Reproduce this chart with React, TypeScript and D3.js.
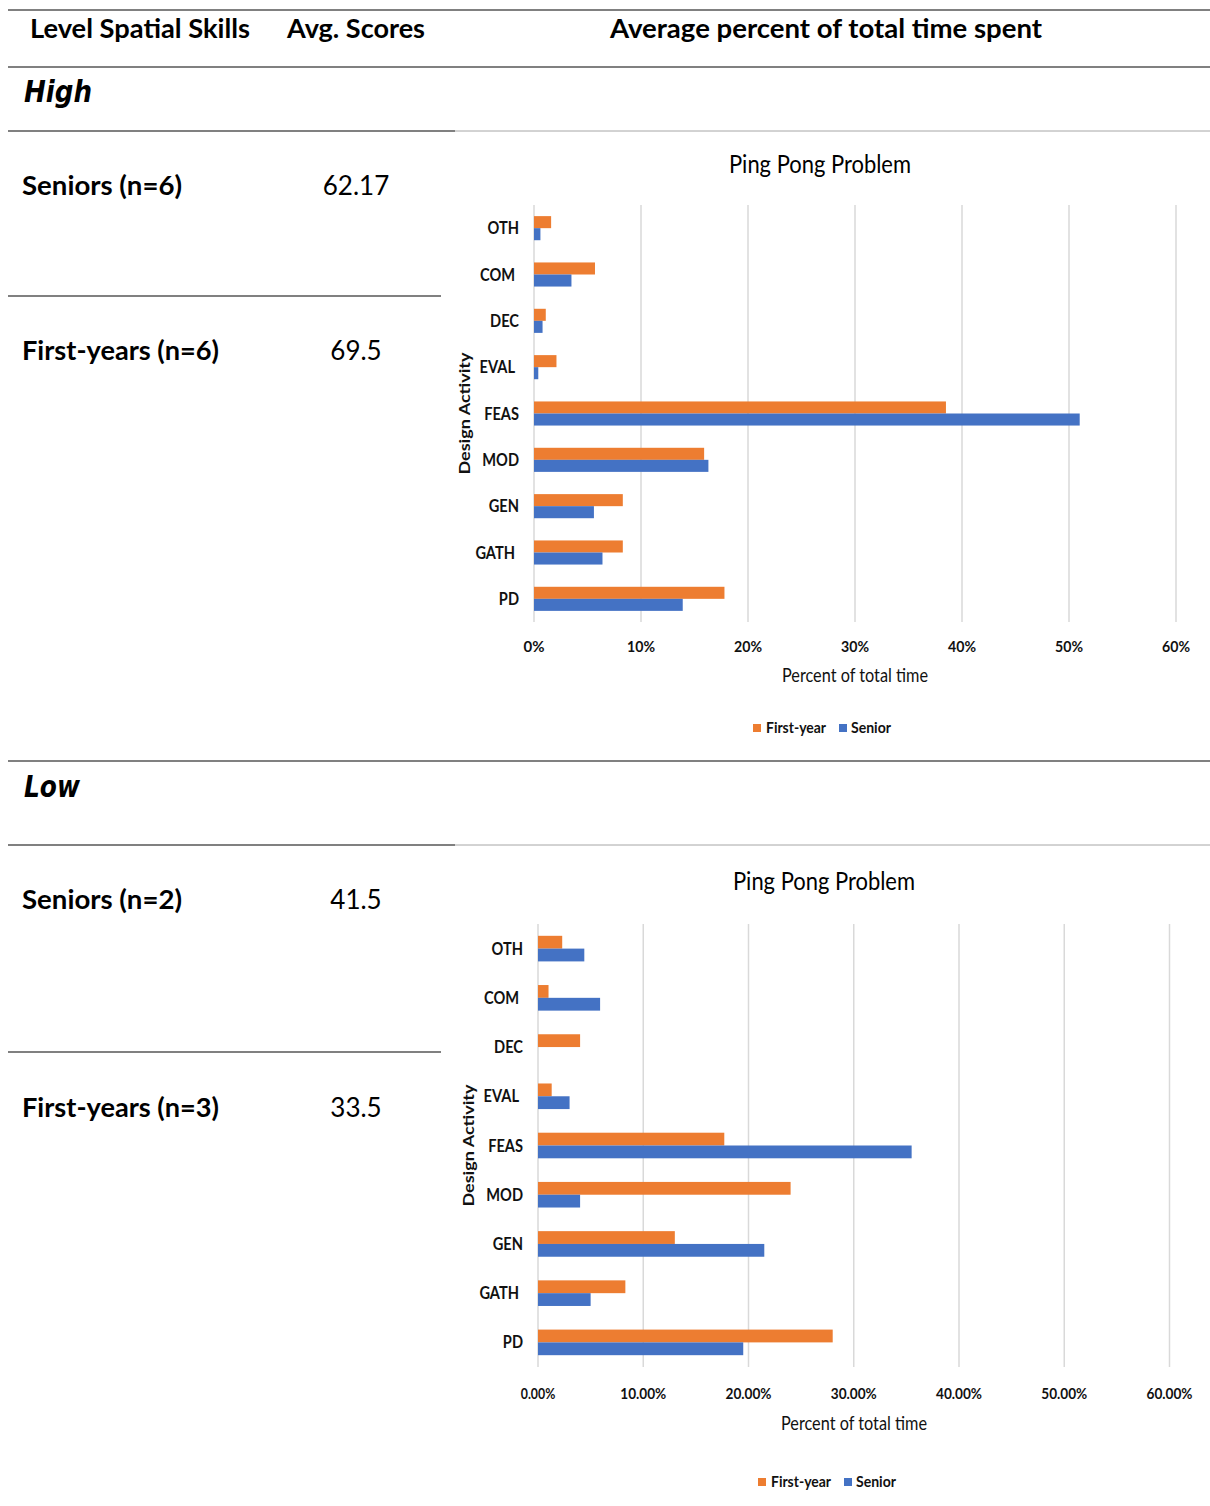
import React from "react";
import * as d3 from "d3";

const categories = ["OTH", "COM", "DEC", "EVAL", "FEAS", "MOD", "GEN", "GATH", "PD"];
const highFirstYear = [1.6, 5.7, 1.1, 2.1, 38.5, 15.9, 8.3, 8.3, 17.8];
const highSenior = [0.6, 3.5, 0.8, 0.4, 51.0, 16.3, 5.6, 6.4, 13.9];
const lowFirstYear = [2.3, 1.0, 4.0, 1.3, 17.7, 24.0, 13.0, 8.3, 28.0];
const lowSenior = [4.4, 5.9, 0, 3.0, 35.5, 4.0, 21.5, 5.0, 19.5];
const xTicks = [0, 10, 20, 30, 40, 50, 60];
const seriesNames = ["First-year", "Senior"];
const headers = ["Level Spatial Skills", "Avg. Scores", "Average percent of total time spent"];
const levels = ["High", "Low"];
const groupLabels = ["Seniors (n=6)", "First-years (n=6)", "Seniors (n=2)", "First-years (n=3)"];
const groupScores = ["62.17", "69.5", "41.5", "33.5"];

const ORANGE = "#ED7D31";
const BLUE = "#4472C4";
const FONT = "Lato, 'Open Sans', sans-serif";

type ChartProps = {
  first: number[];
  senior: number[];
  x0: number;
  x1: number;
  yTop: number;
  yBot: number;
  titleX: number;
  titleY: number;
  tickY: number;
  tickFmt: (v: number) => string;
  tickW: number;
  axisTitleX: number;
  axisTitleY: number;
  yTitleX: number;
  labelRight: number;
  legendX: number;
  legendY: number;
};

function Chart(p: ChartProps) {
  const x = d3.scaleLinear().domain([0, 60]).range([p.x0, p.x1]);
  const y = d3.scaleBand<string>().domain(categories).range([p.yTop, p.yBot]).paddingInner(0.48).paddingOuter(0.24);
  const sub = d3.scaleBand<string>().domain(seriesNames).range([0, y.bandwidth()]);
  const yMid = (p.yTop + p.yBot) / 2;
  return (
    <g>
      <text x={p.titleX} y={p.titleY} textAnchor="middle" fontSize={25} fontFamily={FONT} fill="#000" textLength={182} lengthAdjust="spacingAndGlyphs">Ping Pong Problem</text>
      {xTicks.map((t) => (
        <line key={"g" + t} x1={x(t)} x2={x(t)} y1={p.yTop} y2={p.yBot} stroke="#d9d9d9" strokeWidth={1.5} />
      ))}
      {categories.map((c, i) => (
        <g key={c}>
          <rect x={x(0)} y={(y(c) as number) + (sub("First-year") as number)} width={x(p.first[i]) - x(0)} height={sub.bandwidth()} fill={ORANGE} />
          <rect x={x(0)} y={(y(c) as number) + (sub("Senior") as number)} width={x(p.senior[i]) - x(0)} height={sub.bandwidth()} fill={BLUE} />
          <text transform={`translate(${p.labelRight - (c === "COM" || c === "EVAL" || c === "GATH" ? 4 : 0)},${(y(c) as number) + y.bandwidth() / 2 + 6}) scale(0.86,1)`} textAnchor="end" fontSize={17} fontWeight="bold" fontFamily={FONT} fill="#111">{c}</text>
        </g>
      ))}
      {xTicks.map((t) => (
        <text key={"t" + t} x={x(t)} y={p.tickY} textAnchor="middle" fontSize={16} fontWeight="bold" fontFamily={FONT} fill="#111" textLength={t === 0 ? p.tickW * 0.75 : p.tickW} lengthAdjust="spacingAndGlyphs">{p.tickFmt(t)}</text>
      ))}
      <text x={p.axisTitleX} y={p.axisTitleY} textAnchor="middle" fontSize={19} fontFamily={FONT} fill="#111" textLength={146} lengthAdjust="spacingAndGlyphs">Percent of total time</text>
      <text transform={`translate(${p.yTitleX},${yMid}) rotate(-90)`} textAnchor="middle" fontSize={16} fontWeight="bold" fontFamily={FONT} fill="#111" textLength={122} lengthAdjust="spacingAndGlyphs">Design Activity</text>
      <rect x={p.legendX} y={p.legendY - 9} width={8} height={8} fill={ORANGE} />
      <text x={p.legendX + 13} y={p.legendY} fontSize={16} fontWeight="bold" fontFamily={FONT} fill="#111" textLength={60} lengthAdjust="spacingAndGlyphs">{seriesNames[0]}</text>
      <rect x={p.legendX + 86} y={p.legendY - 9} width={8} height={8} fill={BLUE} />
      <text x={p.legendX + 98} y={p.legendY} fontSize={16} fontWeight="bold" fontFamily={FONT} fill="#111" textLength={40} lengthAdjust="spacingAndGlyphs">{seriesNames[1]}</text>
    </g>
  );
}

export default function App() {
  const dark = "#808080";
  const light = "#a6a6a6";
  return (
    <svg width={1210} height={1506} style={{ position: "absolute", left: 0, top: 0, background: "#fff" }} xmlns="http://www.w3.org/2000/svg">
      <rect x={0} y={0} width={1210} height={1506} fill="#fff" />
      <line x1={8} x2={1210} y1={10} y2={10} stroke={dark} strokeWidth={2} />
      <line x1={8} x2={1210} y1={67} y2={67} stroke={dark} strokeWidth={2} />
      <line x1={8} x2={455} y1={131} y2={131} stroke={dark} strokeWidth={2} />
      <line x1={455} x2={1210} y1={131} y2={131} stroke={light} strokeWidth={1} />
      <line x1={8} x2={441} y1={296} y2={296} stroke={dark} strokeWidth={2} />
      <line x1={8} x2={1210} y1={761} y2={761} stroke={dark} strokeWidth={2} />
      <line x1={8} x2={455} y1={845} y2={845} stroke={dark} strokeWidth={2} />
      <line x1={455} x2={1210} y1={845} y2={845} stroke={light} strokeWidth={1} />
      <line x1={8} x2={441} y1={1052} y2={1052} stroke={dark} strokeWidth={2} />

      <text x={30} y={38} fontSize={26} fontWeight="bold" fontFamily={FONT} textLength={220} lengthAdjust="spacingAndGlyphs">{headers[0]}</text>
      <text x={287} y={38} fontSize={26} fontWeight="bold" fontFamily={FONT} textLength={138} lengthAdjust="spacingAndGlyphs">{headers[1]}</text>
      <text x={610} y={38} fontSize={26} fontWeight="bold" fontFamily={FONT} textLength={432} lengthAdjust="spacingAndGlyphs">{headers[2]}</text>

      <text x={24} y={102} fontSize={31} fontWeight="bold" fontStyle="italic" fontFamily="'DejaVu Sans', sans-serif" textLength={68} lengthAdjust="spacingAndGlyphs">{levels[0]}</text>
      <text x={24} y={797} fontSize={31} fontWeight="bold" fontStyle="italic" fontFamily="'DejaVu Sans', sans-serif" textLength={56} lengthAdjust="spacingAndGlyphs">{levels[1]}</text>

      {[195, 360, 909, 1117].map((yy, i) => (
        <g key={i}>
          <text x={22} y={yy} fontSize={26} fontWeight="bold" fontFamily={FONT} textLength={i % 2 === 0 ? 160 : 197} lengthAdjust="spacingAndGlyphs">{groupLabels[i]}</text>
          <text x={356} y={yy} textAnchor="middle" fontSize={26} fontFamily={FONT}>{groupScores[i]}</text>
        </g>
      ))}

      <Chart first={highFirstYear} senior={highSenior} x0={534} x1={1176} yTop={205} yBot={622}
        titleX={820} titleY={173} tickY={652} tickFmt={(v) => `${v}%`} tickW={28}
        axisTitleX={855} axisTitleY={682} yTitleX={470} labelRight={519} legendX={753} legendY={733} />
      <Chart first={lowFirstYear} senior={lowSenior} x0={538} x1={1169.5} yTop={924} yBot={1367}
        titleX={824} titleY={890} tickY={1399} tickFmt={(v) => `${v.toFixed(2)}%`} tickW={46}
        axisTitleX={854} axisTitleY={1430} yTitleX={474} labelRight={523} legendX={758} legendY={1487} />
    </svg>
  );
}
